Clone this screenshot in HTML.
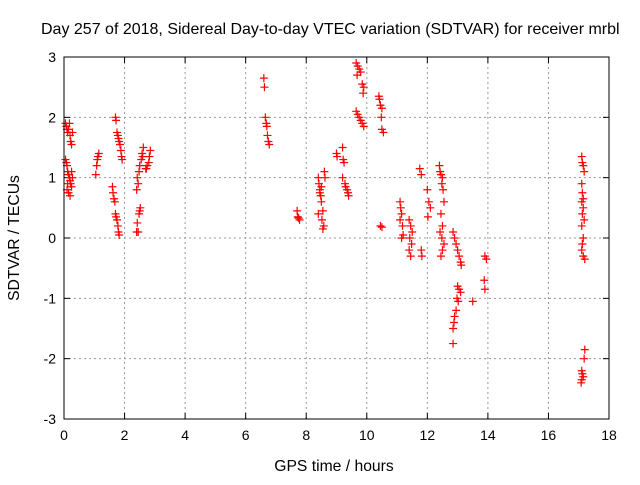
<!DOCTYPE html>
<html><head><meta charset="utf-8"><style>
body{margin:0;background:#fff;font-family:"Liberation Sans",sans-serif}
svg text{font-family:"Liberation Sans",sans-serif;font-size:14px;fill:#000}
</style></head><body>
<svg id="c" width="640" height="480">
<text x="41" y="34" style="font-size:16px">Day 257 of 2018, Sidereal Day-to-day VTEC variation (SDTVAR) for receiver mrbl</text>
<text x="334" y="471" text-anchor="middle" style="font-size:15.7px">GPS time / hours</text>
<text transform="translate(19,238) rotate(-90)" text-anchor="middle" style="font-size:15.7px">SDTVAR / TECUs</text>
<g id="grid"></g><g id="marks"></g>
<rect x="64" y="57" width="545" height="362" fill="none" stroke="#000"/>
</svg>
<script>
const xTicks=[0,2,4,6,8,10,12,14,16,18];
const yTicks=[-3,-2,-1,0,1,2,3];
const hours=[0.05,0.08,0.1,0.12,0.15,0.18,0.2,0.22,0.25,0.28,0.05,0.08,0.1,0.12,0.15,0.18,0.2,0.22,0.25,0.1,0.15,0.2,0.25,0.28,0.12,
1.05,1.08,1.1,1.12,1.15,
1.6,1.62,1.65,1.68,1.7,1.72,1.75,1.78,1.8,1.82,1.7,1.72,1.75,1.78,1.8,1.82,1.85,1.88,1.9,1.92,
2.4,2.45,2.42,2.48,2.5,2.52,2.4,2.45,2.42,2.48,2.5,2.55,2.6,2.58,2.62,2.7,2.75,2.8,2.72,2.85,2.82,
6.6,6.62,6.65,6.68,6.7,6.72,6.75,6.78,
7.7,7.72,7.75,7.78,
8.4,8.42,8.45,8.48,8.5,8.4,8.55,8.52,8.58,8.55,8.5,8.45,8.6,8.62,
9.0,9.02,
9.2,9.22,9.25,9.2,9.28,9.3,9.35,9.38,9.4,
9.65,9.7,9.75,9.8,9.68,9.85,9.9,9.88,9.65,9.7,9.75,9.8,9.85,9.9,
10.4,10.42,10.45,10.5,10.48,10.5,10.55,10.45,10.5,
11.1,11.12,11.15,11.1,11.18,11.2,11.15,
11.4,11.45,11.5,11.42,11.48,11.4,11.45,
11.8,11.82,11.75,11.8,
12.0,12.05,12.1,12.02,
12.4,12.42,12.45,12.5,12.48,12.52,12.55,12.45,12.5,12.42,12.48,12.55,12.5,12.45,
12.85,12.9,12.95,13.0,13.05,13.1,13.12,13.0,13.05,13.1,12.98,13.02,12.95,12.9,12.88,12.85,12.85,
13.5,13.9,13.95,13.88,13.9,
17.1,17.12,17.15,17.18,17.1,17.12,17.15,17.1,17.15,17.12,17.18,17.1,17.15,17.12,17.1,17.15,17.2,17.2,17.18,17.1,17.12,17.15,17.1,17.08];
const values=[1.9,1.85,1.8,1.75,1.8,1.9,1.7,1.6,1.55,1.75,1.3,1.25,1.2,1.1,1.05,1.0,0.95,0.9,0.85,0.8,0.75,0.7,1.1,1.0,0.9,
1.05,1.2,1.3,1.35,1.4,
0.85,0.75,0.65,0.6,0.4,0.35,0.3,0.2,0.1,0.05,2.0,1.95,1.75,1.7,1.65,1.6,1.55,1.45,1.35,1.3,
0.1,0.1,0.25,0.4,0.45,0.5,0.8,0.9,1.0,1.1,1.2,1.3,1.35,1.4,1.5,1.15,1.2,1.25,1.15,1.45,1.35,
2.65,2.5,2.0,1.9,1.85,1.7,1.6,1.55,
0.45,0.35,0.33,0.3,
1.0,0.9,0.8,0.7,0.6,0.4,0.45,0.3,0.2,0.15,0.85,0.75,1.1,1.0,
1.4,1.35,
1.5,1.3,1.25,1.0,0.9,0.85,0.8,0.75,0.7,
2.9,2.85,2.8,2.75,2.7,2.55,2.5,2.4,2.1,2.05,2.0,1.95,1.9,1.85,
2.35,2.3,2.2,2.15,2.0,1.8,1.75,0.2,0.18,
0.6,0.5,0.4,0.3,0.2,0.05,0.0,
0.3,0.2,0.1,0.0,-0.1,-0.2,-0.3,
-0.2,-0.3,1.15,1.05,
0.8,0.6,0.5,0.35,
1.2,1.1,1.05,1.0,0.9,0.8,0.6,0.4,0.2,0.1,0.0,-0.1,-0.2,-0.3,
0.1,0.0,-0.1,-0.2,-0.3,-0.4,-0.45,-0.8,-0.85,-0.9,-1.0,-1.05,-1.2,-1.3,-1.4,-1.5,-1.75,
-1.05,-0.3,-0.35,-0.7,-0.85,
1.35,1.25,1.2,1.1,0.9,0.75,0.65,0.6,0.5,0.4,0.3,0.2,0.0,-0.1,-0.2,-0.3,-0.35,-1.85,-2.0,-2.2,-2.25,-2.3,-2.35,-2.4];
const NS="http://www.w3.org/2000/svg";
const X0=64,X1=609,Y0=419,Y1=57;
function xs(v){return X0+(v-0)/(18-0)*(X1-X0);}
function ys(v){return Y0-(v+3)/6*(Y0-Y1);}
const grid=document.getElementById('grid'),marks=document.getElementById('marks');
function mk(t,a,p){const e=document.createElementNS(NS,t);for(const k in a)e.setAttribute(k,a[k]);p.appendChild(e);return e;}
xTicks.forEach(t=>{const x=xs(t);
 if(t>0&&t<18){const l=mk('line',{x1:x,x2:x,y1:Y1,y2:Y0,stroke:'#999','stroke-dasharray':'2,3'},grid);
 
 }
 mk('line',{x1:x,x2:x,y1:Y0,y2:Y0-6,stroke:'#000'},grid);mk('line',{x1:x,x2:x,y1:Y1,y2:Y1+6,stroke:'#000'},grid);
 const tx=mk('text',{x:x,y:Y0+21,'text-anchor':'middle'},grid);tx.textContent=t;
 
 });
yTicks.forEach(t=>{const y=ys(t);
 if(t>-3&&t<3){const l=mk('line',{x1:X0,x2:X1,y1:y,y2:y,stroke:'#999','stroke-dasharray':'2,3'},grid);
 
 }
 mk('line',{x1:X0,x2:X0+6,y1:y,y2:y,stroke:'#000'},grid);mk('line',{x1:X1,x2:X1-6,y1:y,y2:y,stroke:'#000'},grid);
 const tx=mk('text',{x:X0-8,y:y+5,'text-anchor':'end'},grid);tx.textContent=t;
 
 });
hours.forEach((h,i)=>{const x=xs(h),y=ys(values[i]);
 const p=mk('path',{d:`M${x-4} ${y}H${x+4}M${x} ${y-4}V${y+4}`,stroke:'#f00','stroke-width':1.2,fill:'none'},marks);
 
 });
</script>
</body></html>
